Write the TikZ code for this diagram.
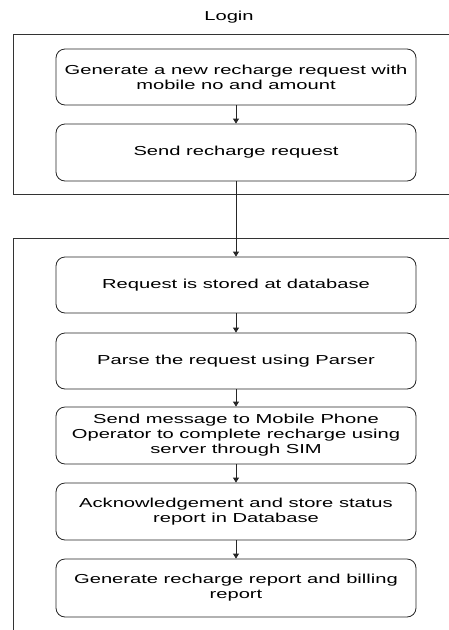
\documentclass[tikz,border=0pt]{standalone}
\usepackage{fontspec}
\setmainfont[FakeStretch=1.55]{Liberation Sans}
\usetikzlibrary{arrows.meta,positioning}

\begin{document}
\begin{tikzpicture}[x=1pt,y=-1pt]
		\tikzset{
			stepbox/.style={draw=black!85, line width=0.8pt, rounded corners=9pt, minimum width=360pt, minimum height=56pt, align=center, font=\fontsize{13}{15}\selectfont, inner sep=2pt},
			frame/.style={draw=black!80, line width=0.9pt},
			flow/.style={draw=black!85, line width=0.8pt, -{Triangle[width=6pt,length=5pt]}}
		}
		\useasboundingbox (0,0) rectangle (449,630);

		% Title
		\node[font=\fontsize{13}{15}\selectfont] (login) at (229,17) {Login};

		% TOP FRAME (open to the right)
		\draw[frame] (449,34) -- (13,34) -- (13,194) -- (449,194);
		\node[stepbox] (gen) at (236,77) {Generate a new recharge request with\\mobile no and amount};
		\node[stepbox, minimum height=57pt] (send) at (236,152.5) {Send recharge request};

		% BOTTOM FRAME (open to the right and below)
		\draw[frame] (449,238) -- (13,238) -- (13,630);
		\node[stepbox] (store) at (236,285) {Request is stored at database};
		\node[stepbox] (parse) at (236,361) {Parse the request using Parser};
		\node[stepbox, minimum height=57pt] (msg) at (236,435.5) {Send message to Mobile Phone\\Operator to complete recharge using\\server through SIM};
		\node[stepbox, minimum height=57pt] (ack) at (236,511.5) {Acknowledgement and store status\\report in Database};
		\node[stepbox, minimum height=58pt] (bill) at (236,588) {Generate recharge report and billing\\report};

		% Connectors
		\draw[flow] (gen) -- (send);
		\draw[flow] (send) -- (store);
		\draw[flow] (store) -- (parse);
		\draw[flow] (parse) -- (msg);
		\draw[flow] (msg) -- (ack);
		\draw[flow] (ack) -- (bill);
	\end{tikzpicture}
\end{document}
